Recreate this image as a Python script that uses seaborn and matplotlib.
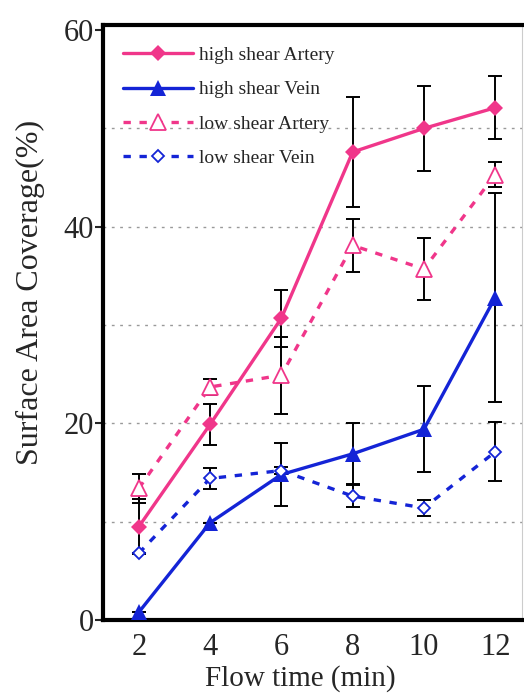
import numpy as np
import pandas as pd
import matplotlib
matplotlib.use("Agg")
import matplotlib.pyplot as plt
import seaborn as sns

# valores
flow_time = [2, 4, 6, 8, 10, 12]
high_artery = [9.5, 19.9, 30.7, 47.6, 50.0, 52.1]
high_artery_err = [2.8, 2.1, 2.9, 5.6, 4.3, 3.2]
high_vein = [0.8, 9.9, 14.8, 16.9, 19.4, 32.8]
high_vein_err = [0.0, 0.0, 3.2, 3.1, 4.35, 10.6]
low_artery = [13.4, 23.7, 24.9, 38.1, 35.7, 45.3]
low_artery_err = [1.5, 0.8, 3.9, 2.7, 3.2, 1.3]
low_vein = [6.8, 14.4, 15.2, 12.6, 11.4, 17.1]
low_vein_err = [0.0, 1.05, 0.4, 1.1, 0.8, 3.0]

pink = "#F0368A"
blue = "#1424D6"

series = [
    ("high shear Artery", high_artery, high_artery_err, pink, "-", "D", 8, True),
    ("high shear Vein", high_vein, high_vein_err, blue, "-", "^", 12, True),
    ("low shear Artery", low_artery, low_artery_err, pink, "--", "^", 11, False),
    ("low shear Vein", low_vein, low_vein_err, blue, "--", "D", 6, False),
]

sns.set_style("ticks")
plt.rcParams["font.family"] = ["Liberation Serif", "DejaVu Serif"]

fig = plt.figure(figsize=(5.24, 6.99), dpi=100)
ax = fig.add_axes([0.197, 0.113, 0.799, 0.851])

# grade pontilhada
for gy in [10, 20, 30, 40, 50]:
    ax.axhline(gy, color="#999999", lw=1.0, ls=(0, (2, 4)), zorder=0)

for name, vals, errs, color, ls, marker, ms, filled in series:
    df = pd.DataFrame({"t": flow_time, "v": vals})
    ax.errorbar(flow_time, vals, yerr=errs, fmt="none", ecolor="black",
                elinewidth=1.4, capsize=5, capthick=1.4, zorder=2)
    sns.lineplot(data=df, x="t", y="v", ax=ax, color=color, lw=2.4,
                 marker=marker, markersize=ms,
                 markerfacecolor=color if filled else "white",
                 markeredgecolor=color, markeredgewidth=1.3 if not filled else 0,
                 label=name, zorder=3,
                 **({"dashes": (2.2, 2.6)} if ls == "--" else {}))

ax.set_xlim(1.0, 12.75)
ax.set_ylim(0, 60.5)
ax.set_xticks(flow_time)
ax.set_yticks([0, 20, 40, 60])
ax.tick_params(axis="x", length=0, labelsize=22, pad=9)
ax.tick_params(axis="y", length=6, width=1.5, labelsize=22, pad=1)

for side in ["left", "bottom", "top"]:
    ax.spines[side].set_linewidth(3)
    ax.spines[side].set_color("black")
ax.spines["right"].set_linewidth(0.8)
ax.spines["right"].set_color("#cccccc")

ax.set_xlabel("Flow time (min)", fontsize=21)
ax.set_ylabel("Surface Area Coverage(%)", fontsize=23)
ax.xaxis.set_label_coords(0.47, -0.075)
ax.yaxis.set_label_coords(-0.14, 0.55)

leg = ax.legend(loc="upper left", frameon=False, fontsize=14,
                handlelength=3.6, handletextpad=0.3, labelspacing=0.85,
                borderaxespad=0.4, bbox_to_anchor=(0.01, 0.99))

plt.savefig("out.png", dpi=100)
